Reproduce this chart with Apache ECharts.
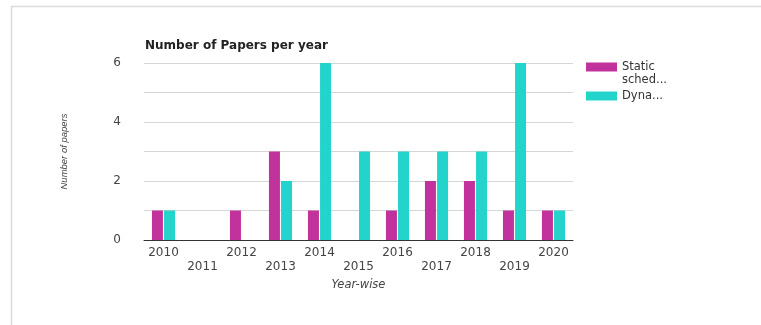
<!DOCTYPE html>
<html><head><meta charset="utf-8">
<script src="https://cdn.jsdelivr.net/npm/echarts@6/dist/echarts.min.js"></script>
<style>html,body{margin:0;padding:0;background:#fff}#c{width:761px;height:325px}</style>
</head><body><div id="c"></div>
<script>
const years = ['2010','2011','2012','2013','2014','2015','2016','2017','2018','2019','2020'];
const staticSched = [1,0,1,3,1,0,1,2,2,1,1];
const dynamicSched = [1,0,0,2,6,3,3,3,3,6,1];
const seriesNames = ['Static scheduling','Dynamic scheduling'];
const legendShort = ['Static','Dyna...'];
const yTicks = [0,2,4,6];

const chart = echarts.init(document.getElementById('c'));
const F = 'DejaVu Sans, sans-serif';
const FL = 'Liberation Sans, Arial, sans-serif';
chart.setOption({
  animation:false,
  textStyle:{fontFamily:F},
  graphic:[
    {type:'line',shape:{x1:11,y1:6.5,x2:761,y2:6.5},style:{stroke:'#dcdcdc',lineWidth:1.5}},
    {type:'line',shape:{x1:11.5,y1:6,x2:11.5,y2:325},style:{stroke:'#dcdcdc',lineWidth:1.5}},
    {type:'text',left:622,top:74,style:{text:'sched...',font:'11.5px DejaVu Sans, sans-serif',fill:'#333'}}
  ],
  title:{text:'Number of Papers per year',left:140,top:35,textStyle:{fontSize:12,fontWeight:'bold',color:'#222',fontFamily:F}},
  legend:{orient:'vertical',left:581,top:55,itemWidth:31,itemHeight:9,itemGap:15,icon:'rect',
    textStyle:{fontSize:11.5,color:'#333',lineHeight:14,fontFamily:F},
    formatter:function(n){return legendShort[seriesNames.indexOf(n)];}},
  grid:{left:144,right:188,top:63,bottom:85},
  xAxis:{type:'category',data:years,name:'Year-wise',nameLocation:'middle',nameGap:38,
    nameTextStyle:{fontStyle:'italic',fontSize:11.5,color:'#444',fontFamily:F},
    axisLine:{lineStyle:{color:'#333',width:1}},axisTick:{show:false},
    axisLabel:{interval:0,fontSize:12,color:'#444',margin:6,lineHeight:14,fontFamily:F,
      formatter:function(v,i){return i%2===0?v:'\n'+v;}}},
  yAxis:{type:'value',min:0,max:6,interval:1,name:'Number of papers',nameLocation:'middle',nameGap:75,
    nameTextStyle:{fontStyle:'italic',fontSize:9.5,color:'#444',fontFamily:FL},
    axisLine:{show:false},axisTick:{show:false},
    axisLabel:{fontSize:12,color:'#444',margin:23,fontFamily:F,formatter:function(v){return yTicks.indexOf(v)>=0?String(v):'';}},
    splitLine:{lineStyle:{color:'#d6d6d6'}}},
  series:[
    {name:seriesNames[0],type:'bar',data:staticSched,barWidth:11,barGap:'10%',itemStyle:{color:'#c2329c'}},
    {name:seriesNames[1],type:'bar',data:dynamicSched,barWidth:11,itemStyle:{color:'#22d4cb'}}
  ]
});
</script></body></html>
